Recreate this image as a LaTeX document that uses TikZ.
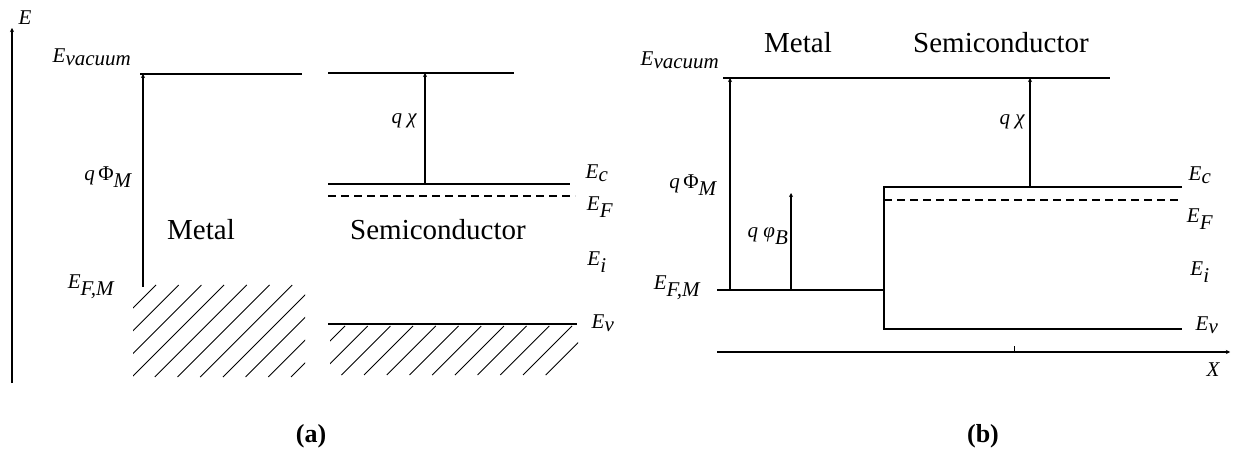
\documentclass[tikz,border=0pt]{standalone}
\usepackage{fontspec}
\setmainfont{Liberation Serif}
\usetikzlibrary{arrows.meta}
\begin{document}
\begin{tikzpicture}[x=1pt,y=-1pt,
  level/.style={line width=1.4pt},
  hatchline/.style={line width=0.9pt},
  fermi/.style={line width=1.2pt, dash pattern=on 8pt off 5pt},
  uparrow/.style={line width=1.4pt,-{Stealth[length=4pt,width=4pt]}},
  elabel/.style={inner sep=0pt,font=\fontsize{21}{24}\selectfont\itshape},
  region/.style={inner sep=0pt,font=\fontsize{29}{32}\selectfont},
  caption/.style={inner sep=0pt,font=\fontsize{26}{30}\selectfont\bfseries}]
\useasboundingbox (0,0) rectangle (1237,454);

% ---------------- panel (a) ----------------
\coordinate (Ebot) at (12,383);
\coordinate (Etop) at (12,28);
\draw[uparrow] (Ebot) -- (Etop);
\node[elabel] (Elab) at (25,18) {E};

\coordinate (aVacML) at (140,74);
\coordinate (aVacMR) at (302,74);
\coordinate (aVacSL) at (328,73);
\coordinate (aVacSR) at (514,73);
\draw[level] (aVacML) -- (aVacMR);
\draw[level] (aVacSL) -- (aVacSR);
\node[elabel] (aVacLab) at (92,57) {E$_{\textit{vacuum}}$};

\coordinate (aPhiB) at (143,287);
\coordinate (aPhiT) at (143,74);
\draw[uparrow] (aPhiB) -- (aPhiT);
\node[elabel] (aPhiLab) at (108,177) {q\,\upshape Φ$_{\textit{M}}$};
\node[elabel] (aEFMLab) at (91,287) {E$_{\textit{F,M}}$};
\node[region] (aMetal) at (201,230) {Metal};

\begin{scope}
  \clip (133,285) rectangle (305,377);
  \foreach \k in {0,...,10} {
    \draw[hatchline] ({441+22.7*\k-377},377) -- ({441+22.7*\k-285},285);
  }
\end{scope}

\coordinate (aEcL) at (328,184);
\coordinate (aEcR) at (570,184);
\draw[level] (aEcL) -- (aEcR);
\coordinate (aEFL) at (328,196);
\coordinate (aEFR) at (575,196);
\draw[fermi] (aEFL) -- (aEFR);
\coordinate (aEvL) at (328,324);
\coordinate (aEvR) at (577,324);
\draw[level] (aEvL) -- (aEvR);

\coordinate (aChiB) at (425,184);
\coordinate (aChiT) at (425,73);
\draw[uparrow] (aChiB) -- (aChiT);
\node[elabel] (aChiLab) at (404,121) {q χ};
\node[region] (aSemi) at (438,230) {Semiconductor};

\begin{scope}
  \clip (330,326) rectangle (578,375);
  \foreach \k in {0,...,11} {
    \draw[hatchline] ({671+22.7*\k-375},375) -- ({671+22.7*\k-326},326);
  }
\end{scope}

\node[elabel] (aEcLab) at (597,173) {E$_{\textit{c}}$};
\node[elabel] (aEFLab) at (600,207) {E$_{\textit{F}}$};
\node[elabel] (aEiLab) at (597,262) {E$_{\textit{i}}$};
\node[elabel] (aEvLab) at (603,323) {E$_{\textit{v}}$};

\node[caption] (capA) at (311,436) {(a)};

% ---------------- panel (b) ----------------
\coordinate (bVacL) at (723,78);
\coordinate (bVacR) at (1110,78);
\draw[level] (bVacL) -- (bVacR);
\node[elabel] (bVacLab) at (680,60) {E$_{\textit{vacuum}}$};
\node[region] (bMetal) at (798,43) {Metal};
\node[region] (bSemi) at (1001,43) {Semiconductor};

\coordinate (bEFML) at (717,290);
\coordinate (bEFMR) at (884,290);
\draw[level] (bEFML) -- (bEFMR);
\node[elabel] (bEFMLab) at (677,288) {E$_{\textit{F,M}}$};

\coordinate (bPhiB) at (730,290);
\coordinate (bPhiT) at (730,78);
\draw[uparrow] (bPhiB) -- (bPhiT);
\node[elabel] (bPhiLab) at (693,185) {q\,\upshape Φ$_{\textit{M}}$};

\coordinate (bBarB) at (791,290);
\coordinate (bBarT) at (791,193);
\draw[uparrow] (bBarB) -- (bBarT);
\node[elabel] (bBarLab) at (768,236) {q φ$_{\textit{B}}$};

\coordinate (bEcL) at (884,187);
\coordinate (bEcR) at (1182,187);
\coordinate (bEvL) at (884,329);
\coordinate (bEvR) at (1182,329);
\draw[level] (bEcR) -- (bEcL) -- (bEvL) -- (bEvR);
\coordinate (bEFL) at (884,200);
\coordinate (bEFR) at (1182,200);
\draw[fermi] (bEFL) -- (bEFR);

\coordinate (bChiB) at (1030,187);
\coordinate (bChiT) at (1030,78);
\draw[uparrow] (bChiB) -- (bChiT);
\node[elabel] (bChiLab) at (1012,122) {q χ};

\node[elabel] (bEcLab) at (1200,175) {E$_{\textit{c}}$};
\node[elabel] (bEFLab) at (1200,219) {E$_{\textit{F}}$};
\node[elabel] (bEiLab) at (1200,272) {E$_{\textit{i}}$};
\node[elabel] (bEvLab) at (1207,325) {E$_{\textit{v}}$};

\coordinate (xL) at (717,352);
\coordinate (xR) at (1230,352);
\draw[uparrow] (xL) -- (xR);
\coordinate (tickB) at (1014,352);
\coordinate (tickT) at (1014,346);
\draw[line width=1pt] (tickB) -- (tickT);
\node[elabel] (xLab) at (1213,370) {X};

\node[caption] (capB) at (983,436) {(b)};
\end{tikzpicture}
\end{document}
